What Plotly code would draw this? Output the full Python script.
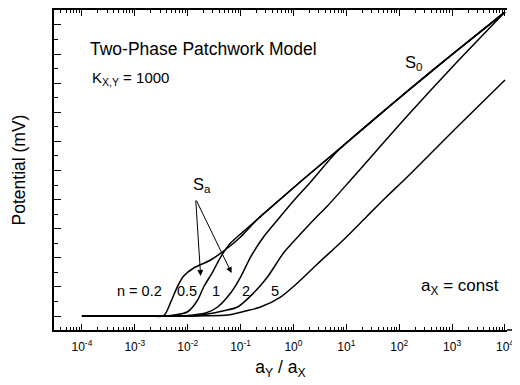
import plotly.graph_objects as go

# ---- data (x as log10(aY/aX), y in mV) ----
log_ratio_n02 = [-4, -2.70, -2.453, -2.321, -2.189, -2.075, -1.887, -1.566, -1.245, -1.0,
                 -0.679, -0.302, 0.189, 0.830, 1.491, 2.151, 3.019, 4.0]
pot_n02 = [0, 0, 0.5, 19.2, 41.2, 55.0, 66.0, 77.0, 93.5, 108.6,
           133.0, 157.0, 188.0, 227.2, 268.2, 308.7, 360.5, 417.6]

log_ratio_n05 = [-4, -2.50, -2.283, -2.0, -1.811, -1.698, -1.528, -1.377, -1.189, -1.0,
                 -0.679, -0.302, 0.189, 0.830, 1.491, 2.151, 3.019, 4.0]
pot_n05 = [0, 0, 1, 5.9, 22, 39.9, 60.5, 81.1, 100.3, 112.8,
           133.3, 157.4, 188.3, 227.5, 268.5, 309.0, 360.8, 417.9]

log_ratio_n1 = [-4, -2.2, -1.943, -1.660, -1.434, -1.189, -1.0, -0.811, -0.566, -0.302,
                0.0, 0.321, 0.830, 1.491, 2.151, 3.019, 4.0]
pot_n1 = [0, 0, 1, 4.1, 12.4, 31.6, 53.6, 81.1, 108.6, 132,
          158.0, 184.0, 226.5, 268.3, 308.8, 360.6, 417.8]

log_ratio_n2 = [-4, -2.0, -1.849, -1.623, -1.340, -1.057, -0.755, -0.491, -0.189, 0.132,
                0.453, 0.642, 1.132, 2.151, 3.057, 4.0]
pot_n2 = [0, 0, 0.5, 2.7, 6.9, 12.4, 31.6, 53.6, 86.6, 112.7,
          137.5, 151.2, 191.1, 274.9, 346.4, 417.9]

log_ratio_n5 = [-4, -2.0, -1.66, -1.245, -0.906, -0.623, -0.245, 0.075, 0.453, 0.943,
                1.396, 1.736, 2.151, 3.057, 4.0]
pot_n5 = [0, 0, 0.3, 1.4, 6.9, 12.4, 26.1, 45.4, 71.5, 104.5,
          137.5, 162.2, 191.1, 257.1, 324.4]

x_tick_exponents = [-4, -3, -2, -1, 0, 1, 2, 3, 4]
x_tick_labels = ["10<sup>-4</sup>", "10<sup>-3</sup>", "10<sup>-2</sup>", "10<sup>-1</sup>",
                 "10<sup>0</sup>", "10<sup>1</sup>", "10<sup>2</sup>", "10<sup>3</sup>",
                 "10<sup>4</sup>"]

curves = [
    ("n = 0.2", log_ratio_n02, pot_n02),
    ("n = 0.5", log_ratio_n05, pot_n05),
    ("n = 1", log_ratio_n1, pot_n1),
    ("n = 2", log_ratio_n2, pot_n2),
    ("n = 5", log_ratio_n5, pot_n5),
]

FONT = "Liberation Sans, Arial, sans-serif"
X_RANGE = [-4.528, 4.038]

fig = go.Figure()
for name, lx, pv in curves:
    fig.add_trace(go.Scatter(
        x=[10 ** v for v in lx], y=pv, mode="lines", name=name,
        line=dict(color="black", width=1.5, shape="spline", smoothing=0.8),
        showlegend=False, hoverinfo="skip"))

# invisible trace so the top (mirror) axis with its own ticks is drawn
fig.add_trace(go.Scatter(x=[10 ** X_RANGE[0]], y=[0], xaxis="x2", mode="markers",
                         marker=dict(opacity=0), showlegend=False, hoverinfo="skip"))

# the page body adds an 8 px offset, so the figure is 8 px smaller each way
fig.update_layout(
    width=512, height=377,
    margin=dict(l=46, r=13, t=2, b=55),
    paper_bgcolor="white", plot_bgcolor="white",
    font=dict(family=FONT, color="black"),
)

minor_x = dict(ticks="inside", ticklen=3, tickwidth=1, tickcolor="black", dtick="D1", showgrid=False)

fig.update_layout(
    xaxis=dict(
        type="log", range=X_RANGE, automargin=False,
        showgrid=False, zeroline=False,
        showline=True, linecolor="black", linewidth=1.5,
        ticks="inside", ticklen=6, tickwidth=1, tickcolor="black",
        tickvals=[10 ** e for e in x_tick_exponents], ticktext=x_tick_labels,
        tickfont=dict(size=12, family=FONT), ticklabelstandoff=5,
        minor=minor_x,
        title=dict(text="a<sub>Y</sub> / a<sub>X</sub>", font=dict(size=17.5, family=FONT), standoff=8),
    ),
    xaxis2=dict(
        type="log", range=X_RANGE, overlaying="x", side="top", anchor="y", automargin=False,
        showgrid=False, zeroline=False,
        showline=True, linecolor="black", linewidth=1.5,
        ticks="inside", ticklen=6, tickwidth=1, tickcolor="black",
        tickvals=[10 ** e for e in x_tick_exponents], showticklabels=False,
        minor=minor_x,
    ),
    yaxis=dict(
        range=[-19.2, 420.6], automargin=False,
        showgrid=False, zeroline=False,
        showline=True, linecolor="black", linewidth=1.5, mirror=False,
        ticks="inside", ticklen=7, tickwidth=1, tickcolor="black",
        tick0=0, dtick=40, showticklabels=False,
        minor=dict(ticks="inside", ticklen=4, tickwidth=1, tickcolor="black", dtick=20, showgrid=False),
        title=dict(text="Potential (mV)", font=dict(size=17.5, family=FONT), standoff=22),
    ),
)

# bottom axis line continues slightly past the plot area
fig.add_shape(type="line", xref="paper", yref="paper", x0=1, x1=1.03, y0=0, y1=0,
              line=dict(color="black", width=1.5))

def txt(x, y, text, xanchor="left", size=15):
    fig.add_annotation(x=x, y=y, xref="x", yref="y", text=text, showarrow=False,
                       xanchor=xanchor, yanchor="middle",
                       font=dict(size=size, family=FONT, color="black"))

txt(-3.887, 367, "Two-Phase Patchwork Model", size=17.5)
txt(-3.85, 326, "K<sub>X,Y</sub> = 1000", size=15)
txt(2.075, 348, "S<sub>0</sub>", size=16.5)
txt(-1.943, 180, "S<sub>a</sub>", size=16.5)
txt(-2.453, 34, "n = 0.2", xanchor="right", size=14.5)
txt(-2.019, 34, "0.5", xanchor="center", size=14.5)
txt(-1.472, 34, "1", xanchor="center", size=14.5)
txt(-0.906, 34, "2", xanchor="center", size=14.5)
txt(-0.358, 34, "5", xanchor="center", size=14.5)
txt(2.377, 40, "a<sub>X</sub> = const", size=17)

# arrows from the S_a label
for tip_x, tip_y in [(-1.755, 55), (-1.170, 59)]:
    fig.add_annotation(x=tip_x, y=tip_y, xref="x", yref="y",
                       ax=-1.849, ay=160.8, axref="x", ayref="y",
                       showarrow=True, arrowhead=2, arrowsize=1.2, arrowwidth=1,
                       arrowcolor="black", text="")

fig.write_html("out.html")
